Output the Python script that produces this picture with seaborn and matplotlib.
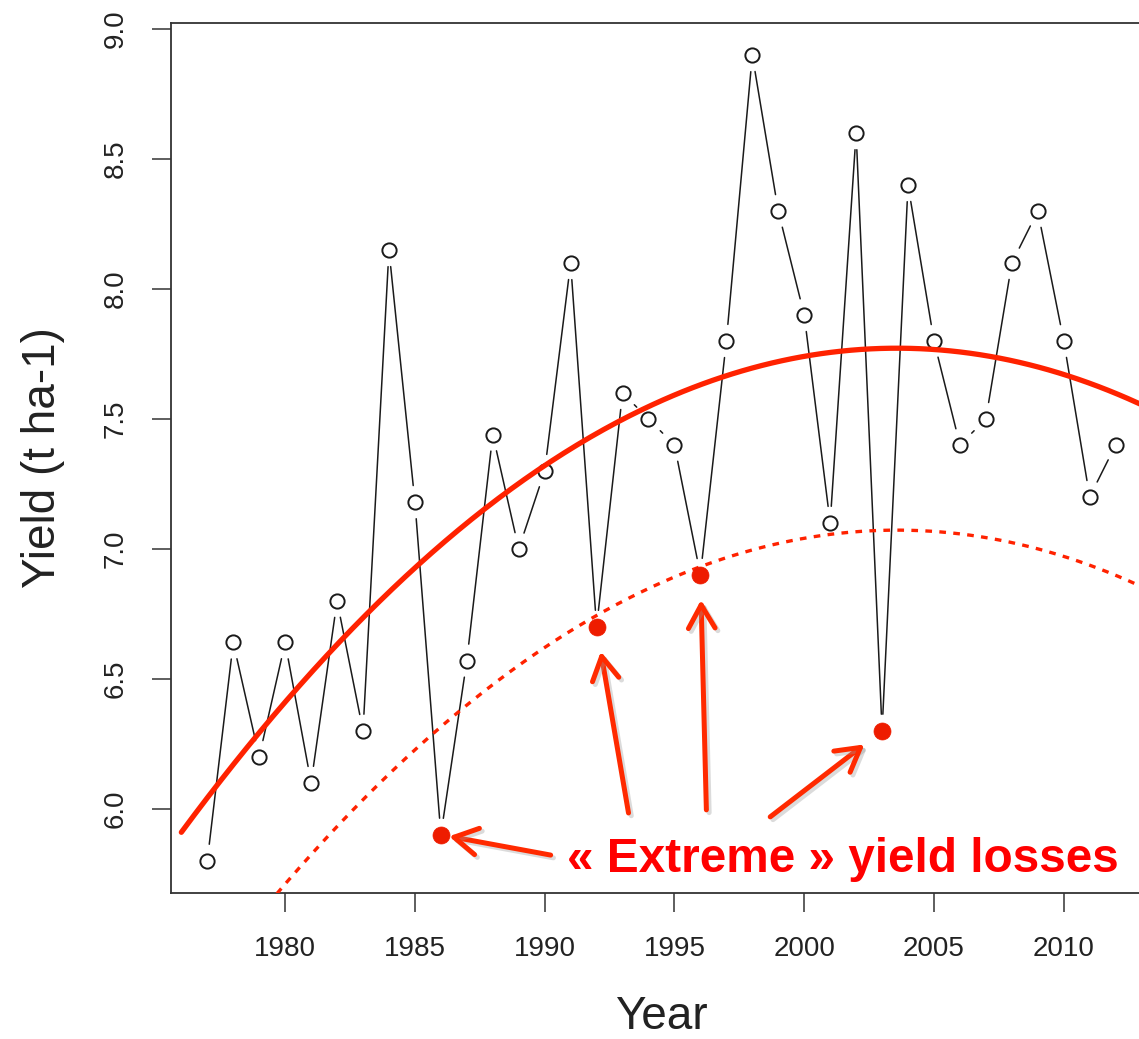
import numpy as np
import pandas as pd
import matplotlib
matplotlib.use("Agg")
import matplotlib.pyplot as plt
import matplotlib.patheffects as pe
import seaborn as sns

# ---------------- data ----------------
years = list(range(1977, 2013))
yields = [5.80, 6.64, 6.20, 6.64, 6.10, 6.80, 6.30, 8.15, 7.18, 5.90,
          6.57, 7.44, 7.00, 7.30, 8.10, 6.70, 7.60, 7.50, 7.40, 6.90,
          7.80, 8.90, 8.30, 7.90, 7.10, 8.60, 6.30, 8.40, 7.80, 7.40,
          7.50, 8.10, 8.30, 7.80, 7.20, 7.40]
extreme_years = [1986, 1992, 1996, 2003]
lower_offset = 0.70          # distance between fitted trend and lower (dotted) curve
curve_range = [1976.0, 2014.0]
x_ticks = [1980, 1985, 1990, 1995, 2000, 2005, 2010]
y_ticks = [6.0, 6.5, 7.0, 7.5, 8.0, 8.5, 9.0]
annot_text = "« Extreme » yield losses"

df = pd.DataFrame({"Year": years, "Yield": yields})
ext = df[df["Year"].isin(extreme_years)]

# quadratic trend fitted on the data
coef = np.polyfit(df["Year"], df["Yield"], 2)
grid = np.linspace(curve_range[0], curve_range[1], 300)
trend = pd.DataFrame({"Year": grid, "fit": np.polyval(coef, grid)})
trend["low"] = trend["fit"] - lower_offset

# ---------------- figure ----------------
sns.set_theme(style="white")
plt.rcParams["font.family"] = ["Liberation Sans", "DejaVu Sans"]

fig = plt.figure(figsize=(11.39, 10.39), dpi=100)
ax = fig.add_axes([0.1501, 0.1405, 0.8613, 0.8375])
ax.set_xlim(1975.6, 2013.4)
ax.set_ylim(5.676, 9.024)

BLACK = "#1a1a1a"
RED = "#ff2200"

# R "type = b" style: connecting segments that stop short of each point
for i in range(len(df) - 1):
    ax.annotate("", xy=(df["Year"][i + 1], df["Yield"][i + 1]),
                xytext=(df["Year"][i], df["Yield"][i]),
                arrowprops=dict(arrowstyle="-", color=BLACK, lw=1.1,
                                shrinkA=12, shrinkB=12),
                zorder=2)

normal = df[~df["Year"].isin(extreme_years)]
sns.scatterplot(data=normal, x="Year", y="Yield", ax=ax, marker="o",
                s=105, facecolor="white", edgecolor=BLACK, linewidth=1.4,
                zorder=3)

sns.lineplot(data=trend, x="Year", y="fit", ax=ax, color=RED, lw=3.8,
             zorder=4)
sns.lineplot(data=trend, x="Year", y="low", ax=ax, color=RED, lw=2.4,
             linestyle=(0, (2.0, 2.2)), zorder=4)

sns.scatterplot(data=ext, x="Year", y="Yield", ax=ax, marker="o", s=150,
                color="#ee1c00", edgecolor="#ee1c00", linewidth=0.5, zorder=5)

# ---------------- arrows & annotation ----------------
arrow_tails = [(1990.23, 5.822), (1993.23, 5.984), (1996.23, 5.996), (1998.69, 5.969)]
arrow_gaps = [6, 18, 18, 16]
shadow = [pe.SimpleLineShadow(offset=(2, -2), shadow_color="#999999", alpha=0.35),
          pe.Normal()]
for (yr, val), tail, gap in zip(zip(ext["Year"], ext["Yield"]), arrow_tails, arrow_gaps):
    ax.annotate("", xy=(yr, val), xytext=tail,
                arrowprops=dict(arrowstyle="->,head_length=1.4,head_width=0.8",
                                color="#ff2a00", lw=3.6, shrinkA=0, shrinkB=gap,
                                path_effects=shadow),
                zorder=6)

ax.text(1990.85, 5.756, annot_text, color="#ff0000", fontsize=34.4,
        fontweight="bold", ha="left", va="baseline", zorder=7)

# ---------------- axes styling ----------------
ax.set_xticks(x_ticks)
ax.set_yticks(y_ticks)
ax.set_yticklabels([f"{v:.1f}" for v in y_ticks], rotation=90, va="center")
ax.tick_params(axis="both", which="major", length=13.7, width=1.1,
               color="#333333", labelsize=20, labelcolor="#222222",
               direction="out", bottom=True, left=True, pad=17)
for sp in ax.spines.values():
    sp.set_visible(True)
    sp.set_color("#333333")
    sp.set_linewidth(1.3)
ax.grid(False)
ax.set_xlabel("Year", fontsize=33, color="#222222", labelpad=24)
ax.set_ylabel("Yield (t ha-1)", fontsize=33, color="#222222", labelpad=27)
ax.set_facecolor("white")
fig.patch.set_facecolor("white")

fig.savefig("out.png", dpi=100, facecolor="white")
